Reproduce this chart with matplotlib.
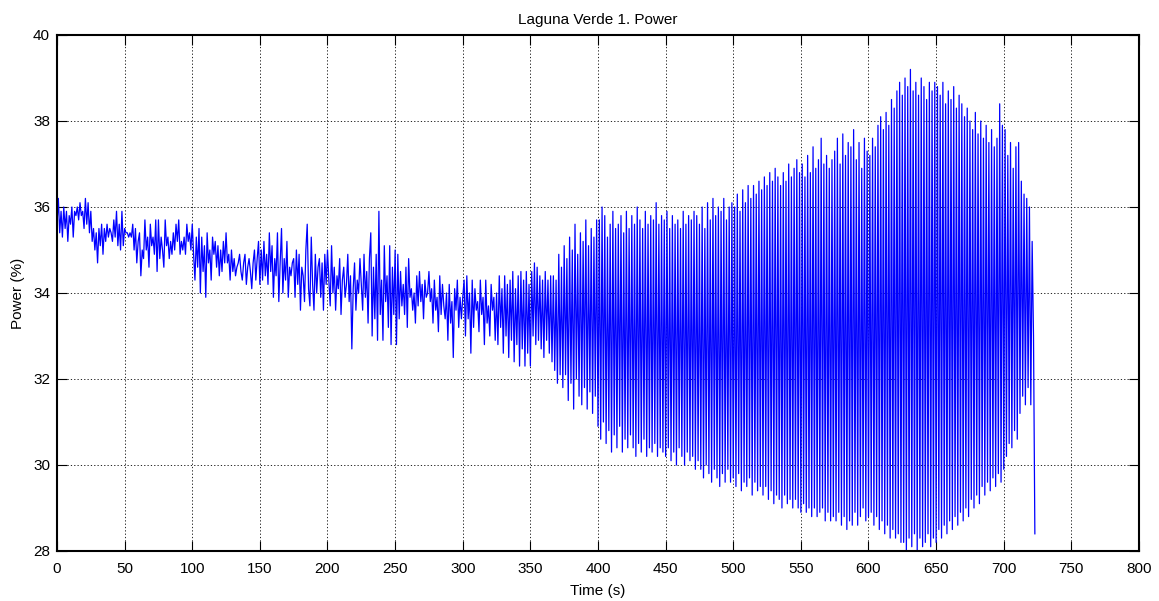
import numpy as np
import matplotlib
matplotlib.use("Agg")
from matplotlib import pyplot as plt

power = [
    # 0 - 24 s
    35.6, 36.2, 35.4, 35.9, 35.3, 36.0, 35.5, 35.9, 35.2, 35.8, 35.6, 36.0, 35.3, 35.9, 35.8, 36.0, 35.7, 36.1, 35.8, 35.9, 35.5, 36.2, 35.6, 36.1, 35.4,
    # 25 - 49 s
    35.9, 35.2, 35.5, 35.0, 35.4, 34.7, 35.5, 35.1, 35.6, 34.9, 35.5, 35.2, 35.6, 35.3, 35.5, 35.4, 35.2, 35.7, 35.3, 35.9, 35.1, 35.6, 35.0, 35.9, 35.1,
    # 50 - 74 s
    35.5, 35.4, 35.4, 35.3, 35.4, 35.3, 35.6, 35.0, 35.5, 34.7, 35.2, 35.4, 34.4, 35.0, 34.8, 35.7, 35.0, 35.3, 34.6, 35.6, 35.1, 35.3, 34.9, 35.7, 34.5,
    # 75 - 99 s
    35.7, 34.8, 35.3, 35.0, 34.6, 35.7, 35.1, 35.3, 34.8, 35.2, 34.9, 35.4, 35.0, 35.6, 35.2, 35.7, 34.9, 35.2, 35.0, 35.3, 34.9, 35.6, 35.2, 35.4, 35.0,
    # 100 - 124 s
    35.6, 34.9, 34.3, 35.3, 34.6, 35.5, 34.0, 35.3, 34.5, 35.1, 33.9, 35.4, 34.7, 35.0, 34.3, 35.3, 34.9, 35.2, 34.6, 35.1, 34.4, 35.0, 34.5, 35.2, 34.7,
    # 125 - 149 s
    35.4, 34.7, 34.9, 34.3, 35.0, 34.5, 34.8, 34.4, 34.6, 34.7, 34.9, 34.5, 34.3, 34.7, 34.9, 34.2, 34.6, 34.8, 34.5, 34.1, 34.7, 35.0, 34.3, 34.8, 35.2,
    # 150 - 174 s
    34.2, 35.0, 34.3, 35.2, 34.4, 34.9, 34.2, 35.4, 34.5, 35.1, 33.9, 34.8, 34.4, 35.4, 33.8, 34.7, 35.5, 34.0, 34.8, 34.3, 35.2, 33.9, 34.6, 34.4, 34.7,
    # 175 - 199 s
    34.8, 33.9, 35.0, 34.2, 34.9, 33.6, 34.6, 34.4, 33.8, 35.0, 35.6, 34.1, 33.7, 35.3, 34.2, 33.6, 34.9, 34.0, 34.6, 34.8, 33.9, 34.7, 33.6, 34.9, 34.2,
    # 200 - 224 s
    35.0, 34.3, 33.7, 35.1, 34.0, 34.6, 33.6, 34.4, 34.1, 34.8, 33.5, 34.3, 34.6, 33.9, 34.2, 34.9, 33.8, 34.4, 32.7, 34.1, 34.7, 33.6, 34.3, 34.0, 34.8,
    # 225 - 249 s
    34.2, 33.6, 34.9, 33.9, 34.5, 33.3, 34.8, 35.4, 33.0, 34.6, 33.4, 34.9, 32.9, 35.9, 33.5, 34.3, 32.9, 35.1, 33.8, 34.4, 33.2, 35.1, 32.8, 34.6, 33.5,
    # 250 - 274 s
    35.0, 32.8, 34.9, 33.4, 34.5, 33.7, 34.2, 33.5, 34.6, 33.2, 34.8, 33.9, 34.1, 33.6, 34.0, 33.3, 34.4, 33.7, 34.5, 33.8, 34.2, 33.4, 34.3, 33.9, 34.0,
    # 275 - 299 s
    34.5, 33.8, 34.1, 33.3, 34.3, 33.6, 33.9, 33.1, 34.4, 33.5, 34.2, 33.7, 33.4, 34.0, 32.9, 34.2, 33.3, 33.8, 32.5, 34.1, 33.6, 34.3, 33.2, 33.9, 33.4,
    # 300 - 324 s
    33.9, 34.3, 33.0, 34.4, 33.4, 34.0, 32.6, 34.3, 33.2, 34.1, 33.6, 33.8, 33.1, 34.3, 33.5, 33.9, 32.8, 34.3, 33.3, 33.7, 33.0, 34.2, 33.6, 33.9, 32.9,
    # 325 - 349 s
    34.0, 32.8, 34.4, 33.2, 34.1, 32.6, 34.4, 33.0, 34.2, 32.5, 34.3, 32.9, 34.5, 32.4, 34.1, 32.8, 34.4, 32.3, 34.5, 32.7, 34.3, 32.3, 34.5, 32.6, 34.2,
    # 350 - 374 s
    32.3, 34.5, 33.0, 34.7, 32.8, 34.6, 32.9, 34.4, 32.7, 34.3, 32.5, 34.5, 32.9, 34.3, 32.6, 34.4, 32.4, 34.4, 32.2, 34.3, 31.9, 34.9, 32.1, 34.6, 31.8,
    # 375 - 399 s
    35.1, 32.1, 34.8, 31.5, 35.3, 31.9, 35.0, 31.3, 35.6, 32.0, 34.9, 31.6, 35.4, 31.4, 35.2, 31.8, 35.7, 31.3, 35.1, 31.7, 35.5, 31.2, 35.3, 31.6, 35.7,
    # 400 - 424 s
    30.9, 35.7, 30.6, 36.0, 31.0, 35.8, 30.5, 35.3, 30.8, 35.6, 30.3, 35.9, 30.7, 35.5, 30.4, 35.6, 30.9, 35.8, 30.3, 35.4, 30.6, 35.9, 30.4, 35.5, 30.7,
    # 425 - 449 s
    35.8, 30.4, 35.6, 30.2, 36.0, 30.5, 35.7, 30.3, 35.5, 30.6, 35.9, 30.2, 35.6, 30.4, 35.8, 30.3, 35.7, 30.5, 36.1, 30.2, 35.6, 30.4, 35.8, 30.3, 35.7,
    # 450 - 474 s
    30.2, 35.9, 30.4, 35.5, 30.1, 35.8, 30.3, 35.6, 30.0, 35.7, 30.4, 35.5, 30.2, 35.9, 30.0, 35.6, 30.3, 35.8, 30.1, 35.7, 30.2, 35.9, 29.9, 35.8, 30.1,
    # 475 - 499 s
    35.6, 29.9, 36.0, 29.7, 35.5, 30.0, 36.1, 29.8, 35.7, 29.6, 36.2, 29.9, 35.8, 29.7, 36.0, 29.5, 35.9, 29.8, 36.2, 29.6, 35.7, 29.9, 36.0, 29.6, 36.1,
    # 500 - 524 s
    29.7, 36.0, 29.5, 36.3, 29.8, 35.9, 29.4, 36.4, 29.6, 36.1, 29.5, 36.5, 29.7, 36.2, 29.3, 36.5, 29.6, 36.3, 29.4, 36.6, 29.5, 36.4, 29.3, 36.7, 29.5,
    # 525 - 549 s
    36.5, 29.2, 36.8, 29.4, 36.6, 29.1, 36.9, 29.3, 36.7, 29.2, 36.5, 29.0, 36.8, 29.3, 36.6, 29.1, 37.0, 29.2, 36.7, 29.0, 36.9, 29.2, 37.1, 29.0, 36.8,
    # 550 - 574 s
    28.9, 37.0, 29.1, 36.7, 28.9, 37.2, 29.0, 36.8, 28.8, 37.4, 29.0, 36.9, 28.8, 37.1, 28.9, 37.6, 29.0, 37.0, 28.7, 37.2, 28.9, 36.9, 28.7, 37.1, 28.8,
    # 575 - 599 s
    37.3, 28.7, 37.6, 28.9, 37.0, 28.6, 37.7, 28.8, 37.2, 28.5, 37.5, 28.7, 37.4, 28.6, 37.8, 28.9, 37.1, 28.6, 37.5, 28.8, 36.9, 29.0, 37.6, 28.7, 37.3,
    # 600 - 624 s
    28.8, 37.2, 28.9, 37.6, 28.6, 37.4, 28.8, 37.9, 28.5, 38.1, 28.7, 37.8, 28.4, 38.2, 28.6, 37.9, 28.3, 38.5, 28.5, 38.3, 28.3, 38.7, 28.4, 38.9, 28.2,
    # 625 - 649 s
    38.6, 28.2, 39.0, 28.0, 38.8, 28.3, 39.2, 28.1, 38.7, 28.4, 38.9, 28.0, 38.6, 28.3, 39.0, 28.1, 38.8, 28.2, 38.5, 28.4, 38.9, 28.1, 38.7, 28.3, 38.9,
    # 650 - 674 s
    28.2, 38.8, 28.5, 38.6, 28.3, 38.9, 28.6, 38.4, 28.4, 38.7, 28.7, 38.5, 28.5, 38.8, 28.8, 38.3, 28.6, 38.6, 28.9, 38.4, 28.7, 38.1, 29.0, 38.3, 28.8,
    # 675 - 699 s
    38.0, 29.2, 37.8, 29.0, 38.2, 29.3, 37.7, 29.1, 38.0, 29.5, 37.6, 29.3, 37.9, 29.6, 37.5, 29.4, 37.8, 29.7, 37.4, 29.5, 37.6, 29.8, 38.4, 29.6, 37.9,
    # 700 - 723 s
    29.9, 37.8, 30.2, 37.2, 30.5, 37.5, 30.4, 36.9, 30.8, 37.4, 30.6, 37.5, 31.2, 36.6, 31.6, 36.3, 31.4, 36.2, 31.8, 36.0, 31.4, 35.2, 33.0, 28.4,
]
sample_step = 1.0  # s
time = np.arange(len(power)) * sample_step

x_ticks = [0, 50, 100, 150, 200, 250, 300, 350, 400, 450, 500, 550, 600, 650, 700, 750, 800]
y_ticks = [28, 30, 32, 34, 36, 38, 40]

plt.rcParams["font.family"] = ["Liberation Sans", "DejaVu Sans"]
plt.rcParams["font.size"] = 11

fig = plt.figure(figsize=(11.59, 6.01), dpi=100)
ax = fig.add_axes([57 / 1159, 50 / 601, 1082 / 1159, 516 / 601])

ax.plot(time, power, color=(0, 0, 1), linewidth=0.9)

ax.set_xlim(0, 800)
ax.set_ylim(28, 40)
ax.set_xticks(x_ticks)
ax.set_yticks(y_ticks)
ax.tick_params(direction="in", top=True, right=True, length=7.5, width=0.8, labelsize=11)
ax.tick_params(axis="x", pad=8)
ax.tick_params(axis="y", pad=5)
ax.grid(True, color="black", linestyle=(0, (1.5, 2.5)), linewidth=0.6)
for s in ax.spines.values():
    s.set_linewidth(1.5)

ax.set_title("Laguna Verde 1. Power", fontsize=11, pad=8)
ax.set_xlabel("Time (s)", fontsize=11, labelpad=6)
ax.set_ylabel("Power (%)", fontsize=11, labelpad=6)

fig.savefig("out.png", dpi=100)
